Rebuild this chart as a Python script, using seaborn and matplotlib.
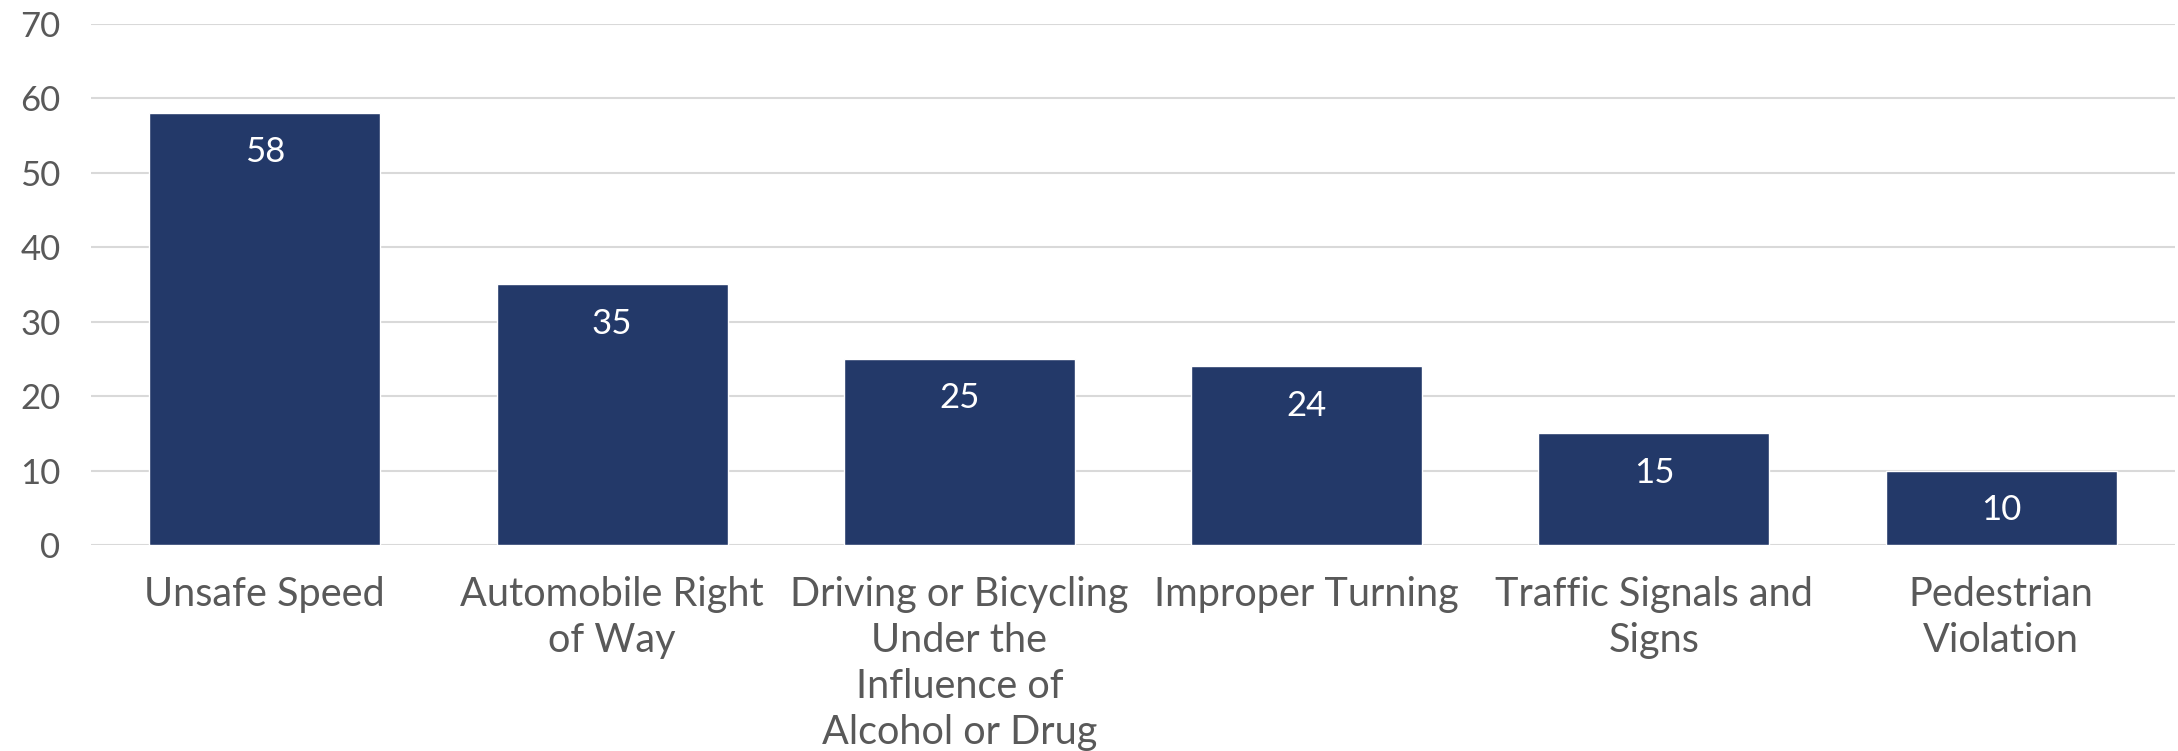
import numpy as np
import pandas as pd
import matplotlib
matplotlib.use("Agg")
import matplotlib.pyplot as plt
import seaborn as sns

# 데이터
categories = ["Unsafe Speed", "Automobile Right\nof Way",
              "Driving or Bicycling\nUnder the\nInfluence of\nAlcohol or Drug",
              "Improper Turning", "Traffic Signals and\nSigns", "Pedestrian\nViolation"]
counts = [58, 35, 25, 24, 15, 10]
yticks = [0, 10, 20, 30, 40, 50, 60, 70]

df = pd.DataFrame({"category": categories, "count": counts})

sns.set_style("white")
plt.rcParams["font.family"] = ["Lato", "DejaVu Sans"]

text_color = "#595959"
bar_color = "#233969"
grid_color = "#d9d9d9"

fig = plt.figure(figsize=(21.78, 7.51), dpi=100)
ax = fig.add_axes([0.0418, 0.2743, 0.9568, 0.6944])

sns.barplot(data=df, x="category", y="count", color=bar_color, width=0.665,
            saturation=1, ax=ax, zorder=3)

ax.set_ylim(0, 70)
ax.set_yticks(yticks)
ax.set_xlim(-0.5, len(categories) - 0.5)
ax.yaxis.grid(True, color=grid_color, linewidth=1.5, zorder=0)
ax.set_axisbelow(True)
sns.despine(ax=ax, left=True, bottom=True)
ax.set_xlabel("")
ax.set_ylabel("")

ax.tick_params(axis="y", length=0, pad=22, labelsize=25, labelcolor=text_color)
ax.tick_params(axis="x", length=0, pad=22, labelsize=28.5, labelcolor=text_color)
for lbl in ax.get_xticklabels():
    lbl.set_linespacing(1.3)

ax.bar_label(ax.containers[0], labels=[str(c) for c in counts], padding=-40,
             color="white", fontsize=25)

fig.savefig("out.png", dpi=100)
